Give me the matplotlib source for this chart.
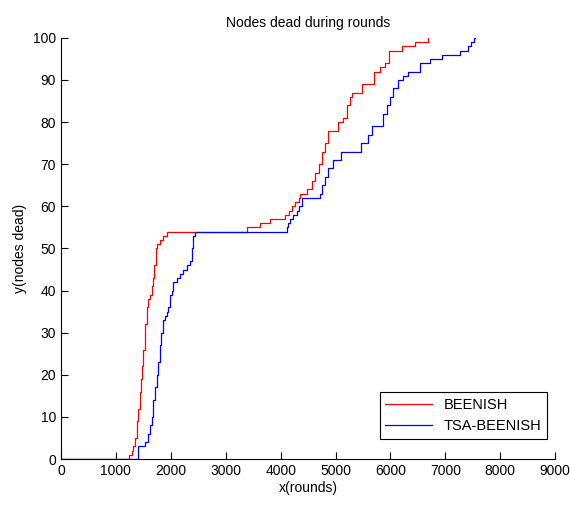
import matplotlib
matplotlib.use("Agg")
import matplotlib.pyplot as plt

plt.rcParams["font.family"] = ["Liberation Sans", "DejaVu Sans"]

# BEENISH: round at which the dead-node count changes, and the new count
red_x = [0, 1230, 1290, 1320, 1350, 1380, 1410, 1430, 1450, 1470, 1500, 1530, 1560,
         1590, 1620, 1650, 1680, 1700, 1730, 1755, 1800, 1865, 1925, 3390, 3625, 3810,
         4080, 4150, 4200, 4270, 4330, 4360, 4475, 4565, 4625, 4690, 4750, 4810, 4870,
         5050, 5140, 5200, 5265, 5295, 5475, 5700, 5810, 5900, 5980, 6205, 6450, 6685, 6690]
red_y = [0, 1, 2, 3, 5, 9, 12, 16, 19, 22, 26, 32, 36,
         38, 39, 41, 43, 46, 50, 51, 52, 53, 54, 55, 56, 57,
         58, 59, 60, 61, 62, 63, 64, 66, 68, 70, 73, 75, 78,
         80, 81, 84, 86, 87, 89, 92, 93, 94, 97, 98, 99, 100, 100]

# TSA-BEENISH
blue_x = [0, 1410, 1530, 1590, 1620, 1650, 1680, 1710, 1740, 1770, 1800, 1830, 1865,
          1895, 1925, 1955, 1985, 2015, 2045, 2105, 2170, 2230, 2290, 2350, 2380, 2410,
          2440, 4110, 4140, 4170, 4220, 4290, 4340, 4385, 4720, 4750, 4810, 4870, 4960,
          5095, 5460, 5600, 5660, 5870, 5930, 5990, 6050, 6145, 6235, 6325, 6540, 6720,
          6935, 7270, 7420, 7460, 7530, 7535]
blue_y = [0, 3, 4, 6, 8, 10, 14, 17, 20, 23, 27, 30, 33,
          34, 35, 36, 39, 40, 42, 43, 44, 45, 46, 47, 50, 53,
          54, 55, 56, 57, 58, 59, 60, 62, 63, 65, 67, 69, 71,
          73, 75, 77, 79, 82, 84, 86, 88, 90, 91, 92, 94, 95,
          96, 97, 98, 99, 100, 100]

fig = plt.figure(figsize=(5.7, 5.05), dpi=100)
ax = fig.add_axes([0.107, 0.091, 0.867, 0.834])

ax.step(red_x, red_y, where="post", color="#ff0000", linewidth=0.9, label="BEENISH")
ax.step(blue_x, blue_y, where="post", color="#0000ff", linewidth=0.9, label="TSA-BEENISH")

ax.set_xlim(0, 9000)
ax.set_ylim(0, 100)
ax.set_xticks(range(0, 9001, 1000))
ax.set_yticks(range(0, 101, 10))
ax.spines["top"].set_visible(False)
ax.spines["right"].set_visible(False)
ax.tick_params(direction="in", length=5, labelsize=10, width=0.8)

ax.set_title("Nodes dead during rounds", fontsize=10, pad=8)
ax.set_xlabel("x(rounds)", fontsize=10, labelpad=2)
ax.set_ylabel("y(nodes dead)", fontsize=10, labelpad=4)

leg = ax.legend(loc="lower right", bbox_to_anchor=(0.984, 0.0475), borderaxespad=0,
                fancybox=False, edgecolor="black", fontsize=10.5, handlelength=3.2,
                framealpha=1)
leg.get_frame().set_linewidth(0.8)

fig.savefig("out.png", dpi=100)
